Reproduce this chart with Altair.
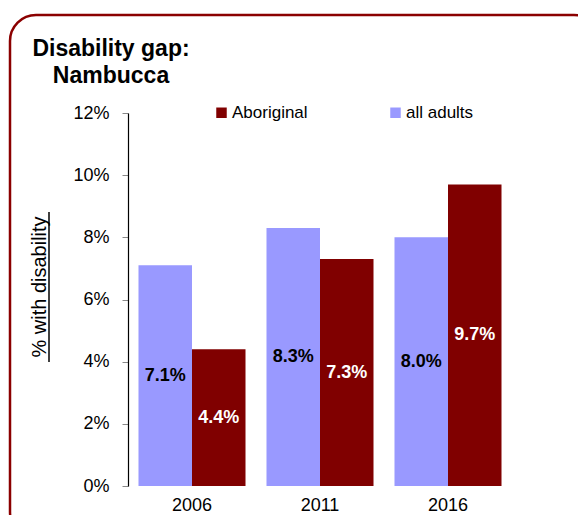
import altair as alt
import pandas as pd

years = ["2006", "2011", "2016"]
all_adults = [0.071, 0.083, 0.080]
aboriginal = [0.044, 0.073, 0.097]
series_names = ["all adults", "Aboriginal"]
legend_order = ["Aboriginal", "all adults"]
colors = ["#800000", "#9999FF"]
y_ticks = [0, 0.02, 0.04, 0.06, 0.08, 0.10, 0.12]

rows = []
for i, y in enumerate(years):
    rows.append({"year": y, "group": "all adults", "value": all_adults[i]})
    rows.append({"year": y, "group": "Aboriginal", "value": aboriginal[i]})
df = pd.DataFrame(rows)
df["label"] = df["value"].map(lambda v: f"{v*100:.1f}%")
df["mid"] = df["value"] / 2

FONT = "Liberation Sans"
W, H = 384, 373

x_enc = alt.X("year:N", sort=years,
              scale=alt.Scale(paddingInner=0.164, paddingOuter=0.082),
              axis=alt.Axis(title=None, domain=False, ticks=False, labelAngle=0,
                            labelFontSize=18, labelColor="black", labelFont=FONT,
                            labelPadding=10))
xoff = alt.XOffset("group:N", sort=series_names,
                   scale=alt.Scale(domain=series_names, paddingInner=0, paddingOuter=0))

bars = alt.Chart(df).mark_bar().encode(
    x=x_enc,
    xOffset=xoff,
    y=alt.Y("value:Q", scale=alt.Scale(domain=[0, 0.12], nice=False),
            axis=alt.Axis(title=None, values=y_ticks, format=".0%", grid=False,
                          domainColor="black", domainWidth=1.2,
                          tickColor="#888888", tickSize=6,
                          labelFontSize=18, labelColor="black", labelFont=FONT,
                          labelPadding=13)),
    color=alt.Color("group:N",
                    scale=alt.Scale(domain=legend_order, range=colors),
                    legend=alt.Legend(title=None, orient="none", legendX=85, legendY=-9,
                                      direction="horizontal", symbolType="square",
                                      symbolSize=110, symbolStrokeWidth=0,
                                      labelFontSize=17, labelFont=FONT, labelColor="black",
                                      labelOffset=2, columnPadding=79)),
)

labels = alt.Chart(df).mark_text(fontSize=18, fontWeight="bold", font=FONT,
                                 baseline="middle").encode(
    x=alt.X("year:N", sort=years),
    xOffset=xoff,
    y=alt.Y("mid:Q"),
    text="label:N",
    color=alt.condition(alt.datum.group == "Aboriginal", alt.value("white"), alt.value("black")),
)

title1 = alt.Chart(pd.DataFrame({"t": ["Disability gap:"]})).mark_text(
    fontSize=23, fontWeight="bold", font=FONT, align="center", baseline="alphabetic", color="black"
).encode(x=alt.value(-17), y=alt.value(-57), text="t:N")
title2 = alt.Chart(pd.DataFrame({"t": ["Nambucca"]})).mark_text(
    fontSize=23, fontWeight="bold", font=FONT, align="center", baseline="alphabetic", color="black"
).encode(x=alt.value(-17), y=alt.value(-30), text="t:N")

ytitle = alt.Chart(pd.DataFrame({"t": ["% with disability"]})).mark_text(
    fontSize=20, font=FONT, align="center", baseline="alphabetic", angle=270, color="black"
).encode(x=alt.value(-82), y=alt.value(174), text="t:N")
underline = alt.Chart(pd.DataFrame({"a": [0]})).mark_rule(color="black", strokeWidth=1.5).encode(
    x=alt.value(-79), y=alt.value(99), y2=alt.value(249))

border = alt.Chart(pd.DataFrame({"a": [0]})).mark_rect(
    fill=None, stroke="#8B0000", strokeWidth=2.5, cornerRadius=26
).encode(x=alt.value(-118), x2=alt.value(472), y=alt.value(-98), y2=alt.value(425))

chart = alt.layer(border, bars, labels, title1, title2, ytitle, underline).properties(
    width=W, height=H,
    padding={"left": 120, "top": 105, "right": 66, "bottom": 30},
    autosize=alt.AutoSizeParams(type="none"),
    background="white",
).configure_view(stroke=None)

chart.save("out.html", embed_options={"renderer": "svg", "actions": False})
